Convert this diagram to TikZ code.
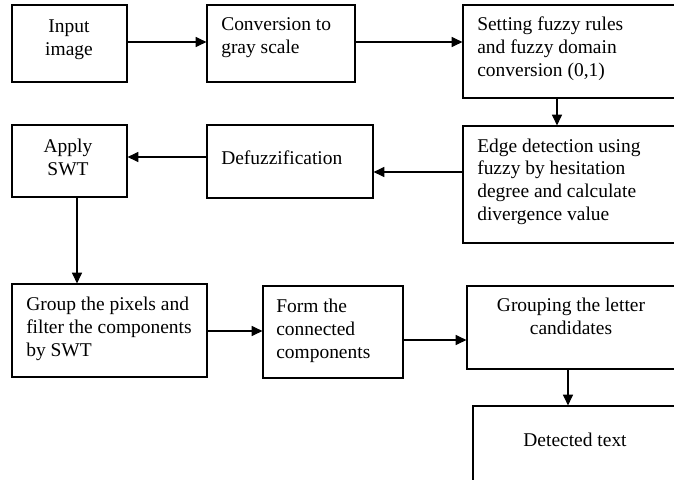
\documentclass[tikz,border=0pt]{standalone}
\usepackage{fontspec}
\setmainfont{Liberation Serif}
\usetikzlibrary{fit,arrows.meta}
\begin{document}
\begin{tikzpicture}[x=0.75pt,y=-0.75pt,
  box/.style={draw, line width=0.9pt, inner sep=0pt, rectangle},
  txt/.style={inner sep=0pt, font=\fontsize{14.6}{16.9}\selectfont},
  txtl/.style={txt, align=left, anchor=base west},
  txtc/.style={txt, align=center, anchor=base},
  arr/.style={line width=0.8pt, -{Triangle[length=8pt,width=7.5pt]}}]
\useasboundingbox (0,0) rectangle (674,479);
\clip (0,0) rectangle (674,479);
% boxes
\node[box, fit={(12,5) (127,82)}] (b1) {};
\node[box, fit={(207,5) (355,82)}] (b2) {};
\node[box, fit={(463,5) (690,98)}] (b3) {};
\node[box, fit={(12,125) (127,197)}] (b4) {};
\node[box, fit={(207,125) (373,198)}] (b5) {};
\node[box, fit={(463,126) (690,243)}] (b6) {};
\node[box, fit={(12,284) (207,377)}] (b7) {};
\node[box, fit={(263,286) (403,378)}] (b8) {};
\node[box, fit={(467,286) (676,369)}] (b9) {};
\node[box, fit={(473,406) (680,490)}] (b10) {};
% texts (anchored at the baseline of their last line)
\node[txtc] (t1) at (69,55) {Input\\image};
\node[txtl] (t2) at (221,53) {Conversion to\\gray scale};
\node[txtl] (t3) at (477,76) {Setting fuzzy rules\\and fuzzy domain\\conversion (0,1)};
\node[txtc] (t4) at (68,175) {Apply\\SWT};
\node[txtl] (t5) at (221,164) {Defuzzification};
\node[txtl] (t6) at (477,220) {Edge detection using\\fuzzy by hesitation\\degree and calculate\\divergence value};
\node[txtl] (t7) at (26,356) {Group the pixels and\\filter the components\\by SWT};
\node[txtl] (t8) at (276,358) {Form the\\connected\\components};
\node[txtc] (t9) at (571,334) {Grouping the letter\\candidates};
\node[txtc] (t10) at (575,446) {Detected text};
% connectors
\draw[arr] (b1.east |- 0,42) -- (b2.west |- 0,42);
\draw[arr] (b2.east |- 0,42) -- (b3.west |- 0,42);
\draw[arr] (b3.south -| 557,0) -- (b6.north -| 557,0);
\draw[arr] (b6.west |- 0,172) -- (b5.east |- 0,172);
\draw[arr] (b5.west |- 0,157) -- (b4.east |- 0,157);
\draw[arr] (b4.south -| 77,0) -- (b7.north -| 77,0);
\draw[arr] (b7.east |- 0,331) -- (b8.west |- 0,331);
\draw[arr] (b8.east |- 0,340) -- (b9.west |- 0,340);
\draw[arr] (b9.south -| 568,0) -- (b10.north -| 568,0);
\end{tikzpicture}
\end{document}
